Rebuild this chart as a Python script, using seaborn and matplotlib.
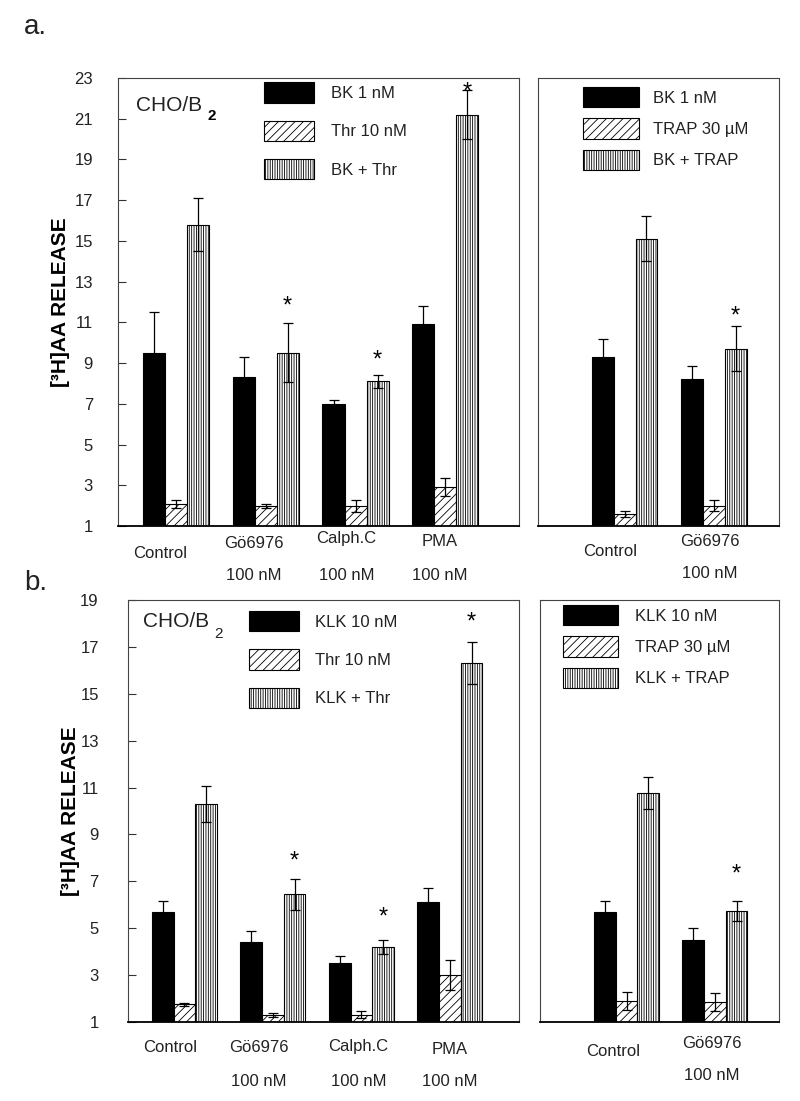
import numpy as np
import pandas as pd
import matplotlib
matplotlib.use("Agg")
import matplotlib.pyplot as plt
import seaborn as sns
from matplotlib.patches import Patch

# ---------------- data ----------------
# Panel a, left
a_groups = ["Control", "Gö6976", "Calph.C", "PMA"]
a_sub = ["", "100 nM", "100 nM", "100 nM"]
a_series = ["BK 1 nM", "Thr 10 nM", "BK + Thr"]
a_bk = [9.5, 8.3, 7.0, 10.9]
a_bk_err = [2.0, 1.0, 0.2, 0.9]
a_thr = [2.1, 2.0, 2.0, 2.9]
a_thr_err = [0.2, 0.1, 0.3, 0.45]
a_comb = [15.8, 9.5, 8.1, 21.2]
a_comb_err = [1.3, 1.45, 0.3, 1.2]
a_star = [False, True, True, True]

# Panel a, right
a2_groups = ["Control", "Gö6976"]
a2_sub = ["", "100 nM"]
a2_series = ["BK 1 nM", "TRAP 30 µM", "BK + TRAP"]
a2_bk = [9.3, 8.2]
a2_bk_err = [0.9, 0.65]
a2_trap = [1.6, 2.0]
a2_trap_err = [0.15, 0.27]
a2_comb = [15.1, 9.7]
a2_comb_err = [1.1, 1.1]
a2_star = [False, True]

# Panel b, left
b_groups = ["Control", "Gö6976", "Calph.C", "PMA"]
b_sub = ["", "100 nM", "100 nM", "100 nM"]
b_series = ["KLK 10 nM", "Thr 10 nM", "KLK + Thr"]
b_klk = [5.7, 4.4, 3.5, 6.1]
b_klk_err = [0.47, 0.5, 0.3, 0.6]
b_thr = [1.75, 1.3, 1.3, 3.0]
b_thr_err = [0.06, 0.1, 0.15, 0.65]
b_comb = [10.3, 6.45, 4.2, 16.3]
b_comb_err = [0.78, 0.67, 0.3, 0.9]
b_star = [False, True, True, True]

# Panel b, right
b2_groups = ["Control", "Gö6976"]
b2_sub = ["", "100 nM"]
b2_series = ["KLK 10 nM", "TRAP 30 µM", "KLK + TRAP"]
b2_klk = [5.7, 4.5]
b2_klk_err = [0.47, 0.5]
b2_trap = [1.9, 1.85]
b2_trap_err = [0.4, 0.38]
b2_comb = [10.75, 5.75]
b2_comb_err = [0.68, 0.43]
b2_star = [False, True]

a_yticks = list(range(1, 24, 2))
b_yticks = list(range(1, 20, 2))

# ---------------- style ----------------
sns.set_theme(style="white")
plt.rcParams["font.family"] = ["Liberation Sans", "DejaVu Sans"]
plt.rcParams["hatch.linewidth"] = 0.6
plt.rcParams["hatch.color"] = "black"

FACES = ["black", "white", "white"]
HATCHES = ["", "////", "|||||||"]
TXT = "#222222"

fig = plt.figure(figsize=(8, 11.01), dpi=100)
W, H = 800, 1101


def axes_px(left, top, right, bottom):
    return fig.add_axes([left / W, 1 - bottom / H, (right - left) / W, (bottom - top) / H])


def panel(ax, groups, subs, series, vals, errs, stars, star_dy, ylim, yticks, xlim,
          name_dy, sub_dy, name_dx, leg_anchor, leg_kw, show_y, tickpad, labelpad):
    rows = []
    for s, v in zip(series, vals):
        for g, x in zip(groups, v):
            rows.append({"group": g, "series": s, "value": x})
    df = pd.DataFrame(rows)
    sns.barplot(data=df, x="group", y="value", hue="series", order=groups,
                hue_order=series, palette=FACES, saturation=1, edgecolor="black",
                linewidth=0.8, width=0.735, gap=0, legend=False, errorbar=None, ax=ax)
    centers = []
    for cont, h in zip(ax.containers, HATCHES):
        cs = []
        for bar in cont:
            bar.set_hatch(h)
            cs.append(bar.get_x() + bar.get_width() / 2)
        centers.append(cs)
    for cs, v, e in zip(centers, vals, errs):
        ax.errorbar(cs, v, yerr=e, fmt="none", ecolor="black", elinewidth=0.9,
                    capsize=3.6, capthick=0.9, zorder=5)
    for i, st in enumerate(stars):
        if st:
            ax.annotate("*", xy=(centers[2][i], vals[2][i] + errs[2][i]),
                        xytext=(0, star_dy[i]), textcoords="offset points",
                        ha="center", va="center", fontsize=17, color="black",
                        zorder=6, annotation_clip=False)
    ax.set_ylim(*ylim)
    ax.set_xlim(*xlim)
    ax.set_xticks([])
    ax.set_xlabel("")
    if show_y:
        ax.set_yticks(yticks)
        ax.set_yticklabels([str(t) for t in yticks], fontsize=12, color=TXT)
        ax.tick_params(axis="y", direction="in", length=6, width=0.8,
                       pad=tickpad, left=True, colors="#333333", labelcolor=TXT)
        ax.set_ylabel("[³H]AA RELEASE", fontsize=15, fontweight="bold",
                      color="black", labelpad=labelpad)
    else:
        ax.set_yticks([])
        ax.set_ylabel("")
    for side in ["top", "left", "right"]:
        ax.spines[side].set_visible(True)
        ax.spines[side].set_color("#444444")
        ax.spines[side].set_linewidth(0.8)
    ax.spines["bottom"].set_color("black")
    ax.spines["bottom"].set_linewidth(1.3)
    # category labels
    for i, (g, sb) in enumerate(zip(groups, subs)):
        ax.annotate(g, xy=(i, 0), xycoords=("data", "axes fraction"),
                    xytext=(name_dx[i], -name_dy[i]), textcoords="offset pixels",
                    ha="center", va="center", fontsize=12, color=TXT)
        if sb:
            ax.annotate(sb, xy=(i, 0), xycoords=("data", "axes fraction"),
                        xytext=(name_dx[i], -sub_dy), textcoords="offset pixels",
                        ha="center", va="center", fontsize=12, color=TXT)
    handles = [Patch(facecolor=f, edgecolor="black", hatch=h, linewidth=0.8, label=s)
               for f, h, s in zip(FACES, HATCHES, series)]
    ax.legend(handles=handles, loc="upper left", bbox_to_anchor=leg_anchor,
              frameon=False, borderpad=0, borderaxespad=0, fontsize=12,
              handleheight=1.5, **leg_kw)
    for t in ax.get_legend().get_texts():
        t.set_color(TXT)


# ---------- panel a ----------
ax1 = axes_px(118, 78, 519, 526)
panel(ax1, a_groups, a_sub, a_series, [a_bk, a_thr, a_comb],
      [a_bk_err, a_thr_err, a_comb_err], a_star, [0, 12, 11, -2],
      (1, 23), a_yticks, (-0.644, 3.82),
      name_dy=[27, 17, 12, 16], sub_dy=49, name_dx=[-16, -12, -9, -6],
      leg_anchor=(0.364, 0.99),
      leg_kw=dict(handlelength=3.0, labelspacing=1.08, handletextpad=1.0),
      show_y=True, tickpad=18, labelpad=3)
ax1.text(0.045, 0.9375, "CHO/B", transform=ax1.transAxes, fontsize=15,
         ha="left", va="center", color=TXT)
ax1.text(0.222, 0.915, "2", transform=ax1.transAxes, fontsize=11, fontweight="bold",
         ha="left", va="center", color="black")

ax2 = axes_px(538, 78, 779, 526)
panel(ax2, a2_groups, a2_sub, a2_series, [a2_bk, a2_trap, a2_comb],
      [a2_bk_err, a2_trap_err, a2_comb_err], a2_star, [0, 7],
      (1, 23), a_yticks, (-0.97, 1.73),
      name_dy=[25, 16], sub_dy=48, name_dx=[-14, -4],
      leg_anchor=(0.187, 0.98),
      leg_kw=dict(handlelength=3.35, labelspacing=0.66, handletextpad=0.84),
      show_y=False, tickpad=18, labelpad=3)

# ---------- panel b ----------
ax3 = axes_px(128, 600, 519, 1022)
panel(ax3, b_groups, b_sub, b_series, [b_klk, b_thr, b_comb],
      [b_klk_err, b_thr_err, b_comb_err], b_star, [0, 12, 16, 14],
      (1, 19), b_yticks, (-0.638, 3.78),
      name_dy=[25, 25, 25, 28], sub_dy=59, name_dx=[-14, -14, -3, 0],
      leg_anchor=(0.309, 0.974),
      leg_kw=dict(handlelength=3.0, labelspacing=1.08, handletextpad=1.0),
      show_y=True, tickpad=21, labelpad=0.5)
ax3.text(0.038, 0.948, "CHO/B", transform=ax3.transAxes, fontsize=15,
         ha="left", va="center", color=TXT)
ax3.text(0.22, 0.92, "2", transform=ax3.transAxes, fontsize=11,
         ha="left", va="center", color=TXT)

ax4 = axes_px(540, 600, 779, 1022)
panel(ax4, b2_groups, b2_sub, b2_series, [b2_klk, b2_trap, b2_comb],
      [b2_klk_err, b2_trap_err, b2_comb_err], b2_star, [0, 19],
      (1, 19), b_yticks, (-0.98, 1.725),
      name_dy=[30, 21], sub_dy=53, name_dx=[-13, -3],
      leg_anchor=(0.096, 0.988),
      leg_kw=dict(handlelength=3.3, labelspacing=0.66, handletextpad=1.0),
      show_y=False, tickpad=21, labelpad=0.5)

fig.text(24 / W, 1 - 27 / H, "a.", fontsize=20, ha="left", va="center", color=TXT)
fig.text(24 / W, 1 - 583 / H, "b.", fontsize=20, ha="left", va="center", color=TXT)

fig.savefig("out.png", dpi=100)
